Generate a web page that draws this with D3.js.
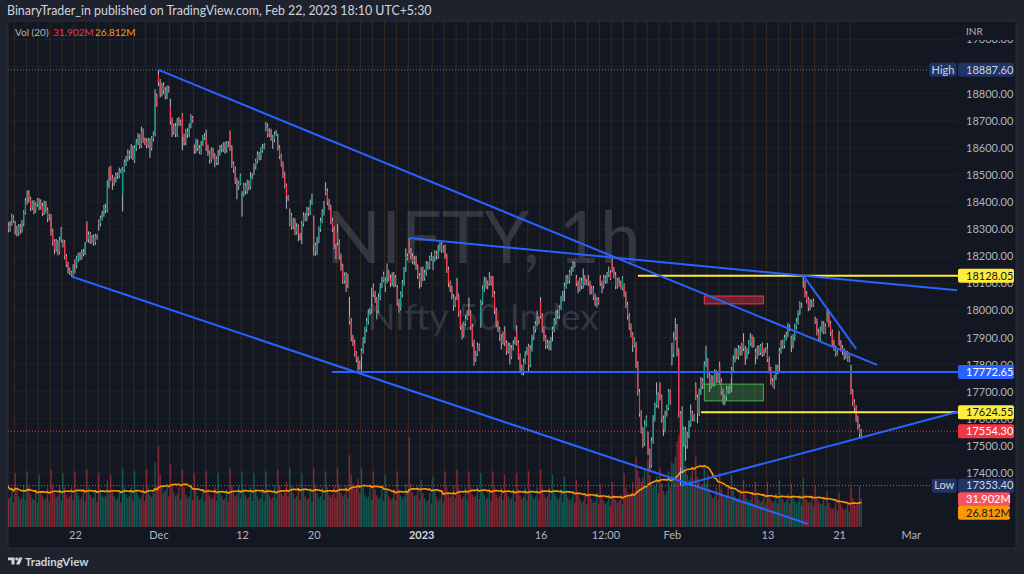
<!DOCTYPE html>
<html>
<head>
<meta charset="utf-8">
<script src="https://cdn.jsdelivr.net/npm/d3@7"></script>
<style>
  html, body { margin: 0; padding: 0; background: #1e222d; }
  svg { display: block; font-family: Lato, "Noto Sans", sans-serif; }
</style>
</head>
<body>
<div id="chart"></div>
<script>
// ---------- Data (NIFTY 1h, 7 bars per session) ----------
const sessions = ["Nov 14","Nov 15","Nov 16","Nov 17","Nov 18","Nov 21","Nov 22","Nov 23","Nov 24","Nov 25",
  "Nov 28","Nov 29","Nov 30","Dec 1","Dec 2","Dec 5","Dec 6","Dec 7","Dec 8","Dec 9","Dec 12","Dec 13",
  "Dec 14","Dec 15","Dec 16","Dec 19","Dec 20","Dec 21","Dec 22","Dec 23","Dec 26","Dec 27","Dec 28",
  "Dec 29","Dec 30","Jan 2","Jan 3","Jan 4","Jan 5","Jan 6","Jan 9","Jan 10","Jan 11","Jan 12","Jan 13",
  "Jan 16","Jan 17","Jan 18","Jan 19","Jan 20","Jan 23","Jan 24","Jan 25","Jan 27","Jan 30","Jan 31",
  "Feb 1","Feb 2","Feb 3","Feb 6","Feb 7","Feb 8","Feb 9","Feb 10","Feb 13","Feb 14","Feb 15","Feb 16",
  "Feb 17","Feb 20","Feb 21","Feb 22"];

// open of the first bar of every session
const sessionOpens = [18376,18320,18398,18380,18345,18246,18179,18325,18326,18529,18430,18552,18625,18871,
  18752,18719,18600,18638,18570,18662,18402,18525,18671,18614,18320,18288,18340,18435,18288,17977,17830,
  18089,18085,18083,18260,18131,18163,18230,18102,18008,17952,18121,17924,17921,17867,18033,17922,18075,
  18119,18115,18118,18183,18093,17877,17541,17731,17811,17517,17721,17818,17790,17750,17885,17847,17859,
  17840,17897,18094,17965,17966,17905,17755];

const closes = [
  18350,18330,18310,18300,18320,18345,18329, 18300,18285,18310,18295,18320,18360,18403,
  18430,18410,18380,18395,18370,18390,18409, 18400,18385,18360,18395,18370,18340,18350,
  18290,18255,18225,18250,18215,18260,18300, 18250,18200,18170,18150,18140,18130,18160,
  18165,18190,18205,18195,18215,18210,18244, 18262,18280,18255,18270,18250,18275,18267,
  18320,18340,18355,18380,18370,18460,18484, 18490,18470,18480,18500,18495,18515,18512,
  18520,18545,18560,18580,18570,18595,18562, 18600,18620,18640,18610,18660,18630,18618,
  18610,18625,18600,18635,18650,18790,18758, 18840,18800,18830,18810,18790,18820,18812,
  18700,18660,18680,18650,18700,18690,18696, 18640,18620,18660,18650,18680,18710,18701,
  18590,18620,18600,18585,18615,18635,18642, 18600,18580,18555,18590,18570,18545,18560,
  18580,18600,18595,18610,18590,18615,18609, 18600,18540,18520,18480,18455,18470,18497,
  18430,18460,18440,18470,18455,18490,18497, 18530,18550,18575,18565,18590,18600,18608,
  18680,18650,18660,18640,18630,18650,18660, 18600,18570,18540,18500,18460,18420,18414,
  18350,18310,18330,18290,18310,18280,18269, 18320,18350,18340,18370,18360,18395,18420,
  18240,18215,18260,18300,18330,18360,18385, 18440,18400,18380,18330,18300,18240,18199,
  18250,18200,18160,18110,18130,18090,18127, 17960,17900,17880,17840,17820,17790,17806,
  17850,17890,17930,17960,17990,18000,18015, 18060,18040,18000,18050,18090,18110,18132,
  18110,18140,18120,18100,18130,18095,18122, 18030,18010,18060,18100,18150,18200,18191,
  18220,18200,18180,18190,18160,18130,18105, 18150,18120,18140,18170,18160,18190,18197,
  18190,18210,18200,18230,18245,18220,18232, 18200,18150,18100,18080,18050,18020,18043,
  18050,17990,17940,17910,17950,17970,17992, 17990,17940,17880,17820,17840,17870,17859,
  18030,18080,18110,18090,18100,18120,18101, 18060,18000,17950,17930,17900,17880,17914,
  17880,17850,17870,17830,17860,17880,17895, 17880,17830,17790,17770,17810,17840,17858,
  17800,17860,17900,17930,17950,17970,17956, 17980,17930,17900,17870,17880,17860,17894,
  17930,17960,17990,17980,18010,18040,18053, 18090,18120,18110,18140,18150,18170,18165,
  18100,18080,18110,18090,18120,18100,18107, 18100,18070,18080,18050,18020,18040,18027,
  18100,18090,18120,18110,18130,18140,18118, 18150,18130,18090,18110,18100,18080,18118,
  18060,18020,17980,17940,17910,17870,17892, 17800,17700,17620,17560,17510,17580,17604,
  17480,17430,17520,17600,17650,17690,17649, 17680,17600,17560,17620,17640,17700,17662,
  17840,17900,17930,17850,17620,17420,17616, 17560,17500,17540,17580,17620,17600,17610,
  17680,17620,17700,17740,17720,17800,17854, 17760,17720,17750,17730,17770,17740,17765,
  17740,17700,17660,17680,17710,17700,17721, 17780,17820,17850,17830,17860,17840,17872,
  17860,17830,17850,17880,17900,17870,17894, 17830,17860,17845,17870,17840,17850,17856,
  17820,17780,17740,17720,17750,17790,17771, 17850,17880,17870,17900,17910,17940,17930,
  17870,17900,17940,17960,17990,18020,18016, 18100,18060,18040,18010,18030,18020,18036,
  17960,17920,17895,17930,17950,17920,17944, 17990,17950,17920,17880,17860,17840,17845,
  17880,17860,17850,17830,17840,17815,17827, 17700,17660,17640,17600,17570,17545,17554.3
];

// wick length above the body, points
const upperWicks = [
  12,10,8,15,10,12,6, 10,12,8,10,14,10,12, 12,14,10,10,12,8,6, 14,10,12,10,8,10,6,
  10,12,8,14,10,12,8, 12,10,8,10,8,6,10, 10,12,8,10,10,12,8, 4,12,10,8,10,8,6,
  10,10,12,10,14,20,45, 5,10,12,10,8,12,8, 10,12,10,14,10,19,12, 10,12,14,10,18,12,8,
  10,12,10,8,10,26,10, 16.6,14,10,12,14,10,8, 29,12,10,12,10,14,8, 9,12,10,12,10,14,8,
  12,14,10,10,10,12,12, 30,12,10,12,10,10,8, 12,10,12,10,12,10,8, 2,10,10,12,10,8,8,
  10,12,10,12,10,21,8, 12,10,12,10,12,14,9, 16,10,12,10,8,10,6, 38,10,8,10,12,8,6,
  26,10,12,10,12,8,6, 10,12,10,12,10,14,11, 10,10,12,10,12,14,19, 33,10,12,10,12,10,6,
  30,12,10,12,10,12,8, 73,12,10,12,10,10,8, 10,12,10,12,14,10,69, 10,12,10,12,10,14,11,
  12,33,10,12,10,12,8, 10,12,10,12,10,29,10, 7,10,12,10,12,10,8, 10,12,10,12,10,12,18,
  10,12,10,12,6,10,8, 13,10,12,10,12,10,8, 18,12,10,12,10,12,8, 39,12,10,12,10,12,8,
  10,12,14,12,10,21,8, 6,12,10,12,10,12,8, 17,10,12,10,12,10,8, 24,10,12,10,12,10,8,
  10,12,10,12,10,29,8, 16,10,12,10,12,10,8, 10,12,10,12,10,14,19, 12,10,12,10,12,13,8,
  12,10,12,10,35,10,8, 16,10,12,10,12,10,8, 12,10,12,10,12,22,8, 19,10,12,10,12,10,8,
  7,10,12,10,12,10,8, 7,12,10,12,10,14,8, 12,10,12,14,10,45,8, 4,10,12,10,12,10,8,
  40,20,42,20,10,8,30, 12,10,12,14,33,10,8, 14,10,12,14,10,12,16, 6,10,12,10,12,10,8,
  21,10,12,10,12,10,8, 12,14,12,10,12,10,9, 31,10,12,10,16,10,8, 12,10,12,6,12,10,8,
  21,10,12,10,12,10,8, 12,10,12,10,12,14,8, 10,12,10,12,10,15,8, 28.05,10,12,10,12,10,8,
  12,10,12,10,12,10,8, 15,10,12,10,12,10,8, 19,10,12,10,12,10,8, 44,10,12,10,12,10,8
];

// wick length below the body, points
const lowerWicks = [
  18,14,20,12,10,8,6, 20,12,10,14,8,10,6, 8,12,14,10,16,10,8, 10,14,12,8,12,14,8,
  14,16,18,10,12,8,10, 14,12,10,14,10,5,8, 28,10,12,10,8,10,6, 10,12,10,8,12,8,6,
  26,10,8,10,12,8,10, 12,25,10,8,10,8,6, 65,10,12,10,14,10,8, 8,12,10,14,10,12,8,
  12,10,37,10,12,8,6, 12,14,10,12,12,10,8, 14,20,12,11,10,10,8, 49,12,10,14,10,8,8,
  13,10,12,8,10,8,6, 12,10,14,10,12,17,8, 34,10,12,10,12,8,6, 12,14,12,14,45,10,8,
  56,10,12,10,12,8,6, 25,10,8,12,10,8,6, 10,12,10,14,34,10,6, 10,12,10,12,10,45,10,
  10,12,10,12,10,25,10, 44,10,12,10,12,8,6, 38,13,10,12,10,8,10, 10,12,10,12,10,14,10,
  10,12,14,12,10,22,8, 12,14,12,10,12,20,8, 56,10,12,10,12,8,10, 10,12,33,10,12,8,6,
  17,10,12,14,10,10,8, 12,18,10,12,10,8,6, 10,12,10,12,10,14,25, 45,12,10,12,10,8,6,
  14,10,12,10,12,8,6, 10,12,14,12,10,21,8, 12,14,12,18,10,8,6, 10,12,14,24,10,8,10,
  16,10,12,10,12,8,10, 12,14,12,10,12,24,6, 12,14,10,30,10,8,6, 10,12,14,9,10,8,6,
  26,10,12,10,12,8,6, 10,12,14,12,10,7,8, 36,10,12,10,12,8,6, 42,10,12,10,12,8,6,
  10,17,10,12,10,8,6, 10,12,10,12,4,10,6, 10,27,10,12,10,8,6, 10,12,12,10,12,2,6,
  10,12,14,12,10,24,6, 12,14,12,14,17,10,8, 14,25,10,12,10,8,10, 12,14,23,10,12,8,10,
  14,12,10,20,15,66.6,20, 20,55,10,12,10,8,10, 10,36,10,12,10,8,10, 10,21,10,12,10,8,6,
  10,12,8,10,12,8,6, 52,10,12,10,12,8,6, 10,31,10,12,10,8,6, 29,10,12,10,12,8,6,
  10,12,14,1,10,8,6, 66,10,12,10,12,8,6, 24,10,12,10,12,8,6, 10,12,14,13,10,8,6,
  10,12,11,10,12,8,6, 10,12,14,12,10,10,6, 10,12,14,12,10,4,6, 10,12,14,12,10,16,20
];

// volume, millions
const volumes = [
  66,44,36,31,33,44,28, 60,42,34,30,33,46,30, 62,45,36,32,30,40,27, 58,40,34,30,32,44,28,
  64,46,38,33,35,46,30, 60,44,36,32,34,44,30, 62,42,35,31,33,42,29, 64,44,36,32,33,42,28,
  60,42,35,33,34,52,36, 58,40,34,30,32,40,27, 66,44,36,32,34,44,30, 62,42,35,31,33,44,29,
  64,44,36,33,38,72,45, 90,58,44,38,40,48,34, 70,48,38,34,36,44,30, 64,44,36,32,34,44,30,
  60,42,34,30,32,42,28, 62,42,35,31,33,44,29, 60,40,34,30,32,42,28, 66,46,38,34,36,46,32,
  62,42,35,31,33,44,29, 60,42,34,30,32,42,28, 62,42,35,31,33,46,32, 64,46,38,34,38,50,34,
  66,46,37,32,34,44,30, 60,42,34,30,32,42,28, 66,46,37,32,34,44,30, 62,44,36,33,36,46,32,
  66,46,38,34,36,46,32, 80,58,48,42,44,54,38, 66,44,36,32,34,44,30, 62,42,35,31,33,42,29,
  58,40,34,30,32,42,30, 62,42,35,31,34,48,40, 100,48,38,34,36,44,30, 52,38,32,28,30,38,26,
  56,40,33,29,31,40,27, 62,44,37,33,35,46,32, 64,44,36,32,34,44,30, 62,44,36,33,35,45,31,
  60,42,35,31,33,42,29, 62,44,36,32,34,44,30, 58,40,34,30,32,42,28, 60,42,35,31,33,44,30,
  62,42,35,31,33,44,30, 64,44,36,32,34,44,30, 58,40,34,30,32,42,28, 56,40,33,29,31,40,27,
  52,37,31,27,29,37,25, 52,37,31,27,29,38,26, 48,35,29,26,28,35,24, 50,36,30,27,29,36,25,
  60,44,38,35,38,50,36, 78,62,55,50,55,65,45, 76,58,48,44,46,56,38, 66,48,40,36,40,62,44,
  72,70,78,95,102,105,62, 92,68,58,52,56,66,44, 78,56,50,44,48,66,48, 58,42,36,32,34,44,30,
  60,42,36,32,34,44,30, 58,40,34,30,32,42,29, 52,37,31,28,30,38,26, 50,36,30,27,29,36,25,
  50,36,30,27,29,37,26, 52,37,31,27,29,37,26, 48,35,29,26,28,35,24, 54,36,30,27,28,35,24,
  46,33,28,25,26,33,23, 40,27,22,20,21,28,18, 38,26,21,19,20,27,17, 44,32,28,24,27.24,45.1,31.902
];

// time axis: bar index of each label
const timeTickBars   = [42, 91, 140, 182, 245, 315, 353, 392, 448, 490, 532];
const timeTickLabels = ["22", "Dec", "12", "20", "2023", "16", "12:00", "Feb", "13", "21", "Mar"];

// drawings: anchors as [bar index, price]
const trendLines = [
  [[91, 18887.6], [512.2, 17799]],
  [[238, 18267], [559.2, 18074]],
  [[40, 18125], [471.8, 17212]],
  [[397, 17353.4], [559.7, 17626]],
  [[469, 18128.05], [500, 17858]]
];
const levelPrices = [17772.65, 18128.05, 17624.55];
const levelStartBars = [192.7, 372.1, 409.1];
const zoneBars = [411, 445.6];
const supplyZone = [18053, 18024];
const demandZone = [17728, 17666];

const lastVolume = 31.902;
const volumeMA   = 26.812;

// ---------- Layout ----------
const width = 1024, height = 574;
const pane = { left: 8, top: 21, right: 1016, bottom: 548 };
const plot = { left: 8, top: 21, right: 958, bottom: 527 };
const BARS_PER_DAY = 7;
const nBars = closes.length;

const COLORS = {
  bg: "#131722", outer: "#1e222d", text: "#b2b5be", grid: "#1d212c",
  session: "#33291f", up: "#089981", down: "#f23645", wick: "#b2b5be",
  blue: "#2962ff", yellow: "#ffeb3b", orange: "#ff9800", navy: "#1e3566"
};
const levelColors = [COLORS.blue, COLORS.yellow, COLORS.yellow];

// ---------- Bars ----------
const bars = closes.map((c, i) => {
  const o = i % BARS_PER_DAY === 0 ? sessionOpens[i / BARS_PER_DAY] : closes[i - 1];
  return {
    i, o, c,
    h: Math.max(o, c) + upperWicks[i],
    l: Math.min(o, c) - lowerWicks[i],
    v: volumes[i]
  };
});

// volume SMA(20)
const maPoints = bars.map((d, i) => {
  const win = volumes.slice(Math.max(0, i - 19), i + 1);
  return { i, v: d3.mean(win) };
});

// ---------- Scales ----------
const x = d3.scaleLinear().domain([0, 504]).range([2.4, 862.1]);
const y = d3.scaleLinear().domain([17400, 18800]).range([473.0, 93.6]);
const yVol = d3.scaleLinear().domain([0, 100]).range([527, 437]);
const step = x(1) - x(0);
const cx = i => x(i + 0.5);

// ---------- SVG ----------
const svg = d3.select("#chart").append("svg")
  .attr("width", width).attr("height", height)
  .attr("viewBox", `0 0 ${width} ${height}`);

svg.append("rect").attr("width", width).attr("height", height).attr("fill", COLORS.outer);
svg.append("rect")
  .attr("x", pane.left).attr("y", pane.top)
  .attr("width", pane.right - pane.left).attr("height", pane.bottom - pane.top)
  .attr("fill", COLORS.bg).attr("stroke", "#2a2e39");

svg.append("defs").append("clipPath").attr("id", "plotClip")
  .append("rect")
  .attr("x", plot.left).attr("y", plot.top)
  .attr("width", plot.right - plot.left).attr("height", plot.bottom - plot.top);

const g = svg.append("g").attr("clip-path", "url(#plotClip)");

// ---------- Grid ----------
const priceTicks = d3.range(17400, 19001, 100);
g.append("g").selectAll("line")
  .data(priceTicks)
  .join("line")
  .attr("x1", plot.left).attr("x2", plot.right)
  .attr("y1", d => y(d)).attr("y2", d => y(d))
  .attr("stroke", COLORS.grid);

// session breaks
g.append("g").selectAll("line")
  .data(d3.range(1, sessions.length))
  .join("line")
  .attr("x1", d => x(d * BARS_PER_DAY)).attr("x2", d => x(d * BARS_PER_DAY))
  .attr("y1", plot.top).attr("y2", plot.bottom)
  .attr("stroke", COLORS.session).attr("stroke-width", 1);

// ---------- Watermark ----------
g.append("text")
  .attr("x", 483).attr("y", 263)
  .attr("text-anchor", "middle")
  .attr("font-size", 72)
  .attr("fill", "rgba(178,181,190,0.2)")
  .text("NIFTY, 1h");
g.append("text")
  .attr("x", 483).attr("y", 330)
  .attr("text-anchor", "middle")
  .attr("font-size", 37)
  .attr("fill", "rgba(178,181,190,0.2)")
  .text("Nifty 50 Index");

// ---------- Volume ----------
g.append("g").selectAll("rect")
  .data(bars)
  .join("rect")
  .attr("x", d => cx(d.i) - step * 0.4)
  .attr("width", step * 0.8)
  .attr("y", d => yVol(d.v))
  .attr("height", d => yVol(0) - yVol(d.v))
  .attr("fill", d => d.c >= d.o ? "rgba(8,153,129,0.5)" : "rgba(242,54,69,0.5)");

g.append("path")
  .datum(maPoints)
  .attr("fill", "none")
  .attr("stroke", COLORS.orange)
  .attr("stroke-width", 1.6)
  .attr("d", d3.line().x(d => cx(d.i)).y(d => yVol(d.v)));

// ---------- Dotted price lines ----------
const hi = d3.max(bars, d => d.h);
const lo = d3.min(bars, d => d.l);
const last = bars[nBars - 1].c;

svg.append("line")
  .attr("x1", plot.left).attr("x2", 929)
  .attr("y1", y(hi)).attr("y2", y(hi))
  .attr("stroke", "#787b86").attr("stroke-dasharray", "1,2");
svg.append("line")
  .attr("x1", plot.left).attr("x2", 932)
  .attr("y1", y(lo)).attr("y2", y(lo))
  .attr("stroke", "#787b86").attr("stroke-dasharray", "1,2");
svg.append("line")
  .attr("x1", plot.left).attr("x2", plot.right)
  .attr("y1", y(last)).attr("y2", y(last))
  .attr("stroke", COLORS.down).attr("stroke-dasharray", "1,2");

// ---------- Candles ----------
g.append("g").selectAll("rect")
  .data(bars)
  .join("rect")
  .attr("x", d => cx(d.i) - 0.5)
  .attr("width", 1)
  .attr("y", d => y(d.h))
  .attr("height", d => Math.max(0.5, y(d.l) - y(d.h)))
  .attr("fill", COLORS.wick);

g.append("g").selectAll("rect")
  .data(bars)
  .join("rect")
  .attr("x", d => cx(d.i) - 0.6)
  .attr("width", 1.2)
  .attr("y", d => y(Math.max(d.o, d.c)))
  .attr("height", d => Math.max(1, Math.abs(y(d.o) - y(d.c))))
  .attr("fill", d => d.c >= d.o ? COLORS.up : COLORS.down);

// ---------- Drawings ----------
const zones = [
  { p: supplyZone, stroke: "#f23645", fill: "rgba(242,54,69,0.38)" },
  { p: demandZone, stroke: "#4caf50", fill: "rgba(76,175,80,0.32)" }
];
g.append("g").selectAll("rect")
  .data(zones)
  .join("rect")
  .attr("x", cx(zoneBars[0]))
  .attr("width", cx(zoneBars[1]) - cx(zoneBars[0]))
  .attr("y", d => y(d.p[0]))
  .attr("height", d => y(d.p[1]) - y(d.p[0]))
  .attr("fill", d => d.fill)
  .attr("stroke", d => d.stroke);

g.append("g").selectAll("line")
  .data(levelPrices)
  .join("line")
  .attr("x1", (d, k) => cx(levelStartBars[k]))
  .attr("x2", plot.right)
  .attr("y1", d => y(d)).attr("y2", d => y(d))
  .attr("stroke", (d, k) => levelColors[k])
  .attr("stroke-width", 2);

g.append("g").selectAll("line")
  .data(trendLines)
  .join("line")
  .attr("x1", d => cx(d[0][0])).attr("y1", d => y(d[0][1]))
  .attr("x2", d => cx(d[1][0])).attr("y2", d => y(d[1][1]))
  .attr("stroke", COLORS.blue)
  .attr("stroke-width", 2);

// ---------- Axes ----------
const yAxis = svg.append("g")
  .attr("transform", `translate(${plot.right},0)`)
  .call(d3.axisRight(y).tickValues(priceTicks).tickFormat(d3.format(".2f")).tickSize(0).tickPadding(8));
yAxis.select(".domain").remove();
yAxis.selectAll("text").attr("fill", COLORS.text).attr("font-size", 11).attr("font-family", "Lato, sans-serif");

const xAxis = svg.append("g")
  .attr("transform", `translate(0,${plot.bottom})`)
  .call(d3.axisBottom(x)
    .tickValues(timeTickBars.map(b => b + 0.5))
    .tickFormat((d, k) => timeTickLabels[k])
    .tickSize(0).tickPadding(4));
xAxis.select(".domain").remove();
xAxis.selectAll("text")
  .attr("fill", (d, k) => timeTickLabels[k] === "2023" ? "#d1d4dc" : COLORS.text)
  .attr("font-weight", (d, k) => timeTickLabels[k] === "2023" ? 700 : 400)
  .attr("font-size", 11)
  .attr("font-family", "Lato, sans-serif");

// INR unit label covering the top tick
svg.append("rect").attr("x", plot.right + 1).attr("y", pane.top + 1).attr("width", 56).attr("height", 18).attr("fill", COLORS.bg);
svg.append("text").attr("x", 966).attr("y", 31).attr("dy", "0.35em")
  .attr("font-size", 10).attr("fill", COLORS.text).text("INR");

// ---------- Price labels ----------
function priceLabel(py, text, bg, fg, w = 56) {
  svg.append("rect").attr("x", 958).attr("y", py - 7).attr("width", w).attr("height", 14)
    .attr("rx", 2).attr("fill", bg);
  svg.append("text").attr("x", 966).attr("y", py).attr("dy", "0.35em")
    .attr("font-size", 11).attr("fill", fg).text(text);
}
function tagLabel(py, text, x0) {
  svg.append("rect").attr("x", x0).attr("y", py - 7).attr("width", 956.5 - x0).attr("height", 14)
    .attr("rx", 2).attr("fill", COLORS.navy);
  svg.append("text").attr("x", (x0 + 956.5) / 2).attr("y", py).attr("dy", "0.35em")
    .attr("text-anchor", "middle").attr("font-size", 11).attr("fill", "#d1d4dc").text(text);
}
const fmt2 = d3.format(".2f");
tagLabel(y(hi), "High", 929.5);
priceLabel(y(hi), fmt2(hi), COLORS.navy, "#d1d4dc");
priceLabel(y(levelPrices[1]), fmt2(levelPrices[1]), COLORS.yellow, "#131722");
priceLabel(y(levelPrices[0]), fmt2(levelPrices[0]), COLORS.blue, "#ffffff");
priceLabel(y(levelPrices[2]), fmt2(levelPrices[2]), COLORS.yellow, "#131722");
priceLabel(y(last), fmt2(last), COLORS.down, "#ffffff");
tagLabel(y(lo), "Low", 932);
priceLabel(y(lo), fmt2(lo), COLORS.navy, "#d1d4dc");
priceLabel(yVol(lastVolume) + 1, d3.format(".3f")(lastVolume) + "M", "#f7525f", "#ffffff", 52);
priceLabel(yVol(volumeMA) + 10, d3.format(".3f")(volumeMA) + "M", COLORS.orange, "#131722", 52);

// ---------- Header / legend ----------
svg.append("text").attr("x", 7).attr("y", 11).attr("dy", "0.35em")
  .attr("font-size", 12.4).attr("fill", "#d1d4dc")
  .text("BinaryTrader_in published on TradingView.com, Feb 22, 2023 18:10 UTC+5:30");

const legend = svg.append("g").attr("font-size", 10);
legend.append("text").attr("x", 15).attr("y", 32).attr("dy", "0.35em")
  .attr("fill", COLORS.text).text("Vol (20)");
legend.append("text").attr("x", 53).attr("y", 32).attr("dy", "0.35em")
  .attr("fill", COLORS.down).text(d3.format(".3f")(lastVolume) + "M");
legend.append("text").attr("x", 95).attr("y", 32).attr("dy", "0.35em")
  .attr("fill", COLORS.orange).text(d3.format(".3f")(volumeMA) + "M");

// ---------- Footer logo ----------
const logo = svg.append("g").attr("fill", "#d1d4dc");
logo.append("path").attr("d", "M8,557.5 h6.5 v7 h-3 v-4.3 h-3.5 z");
logo.append("circle").attr("cx", 16.6).attr("cy", 559).attr("r", 1.4);
logo.append("path").attr("d", "M19,557.5 h3.6 l-3,7 h-3.6 z");
svg.append("text").attr("x", 25).attr("y", 561.5).attr("dy", "0.35em")
  .attr("font-size", 11.5).attr("font-weight", 700).attr("fill", "#d1d4dc").text("TradingView");
</script>
</body>
</html>
